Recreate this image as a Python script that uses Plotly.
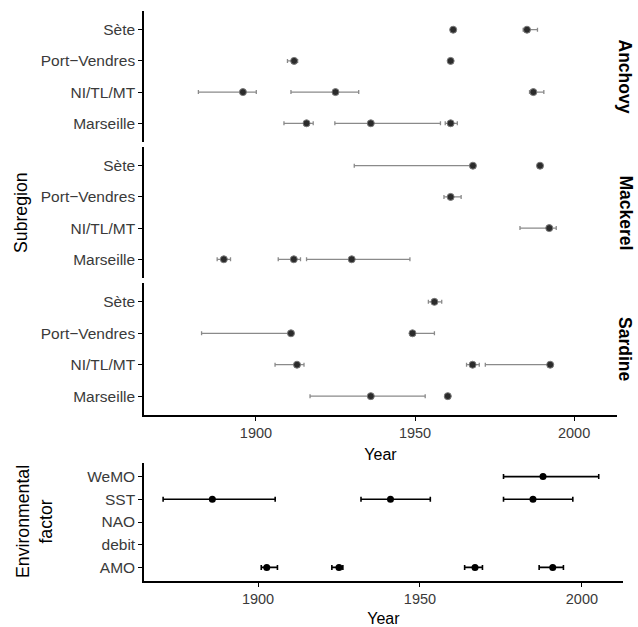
import plotly.graph_objects as go

subregions = ["Marseille", "NI/TL/MT", "Port−Vendres", "Sète"]
factors = ["AMO", "debit", "NAO", "SST", "WeMO"]

anchovy_region = ["Sète", "Sète", "Port−Vendres", "Port−Vendres", "NI/TL/MT", "NI/TL/MT",
                  "NI/TL/MT", "Marseille", "Marseille", "Marseille"]
anchovy_year = [1962.0, 1985.2, 1912.0, 1961.2, 1895.9, 1925.0, 1987.2, 1915.9, 1936.1, 1961.2]
anchovy_lo = [1961.5, 1984.0, 1909.9, 1960.5, 1881.9, 1911.0, 1986.0, 1908.8, 1924.8, 1959.5]
anchovy_hi = [1962.5, 1988.5, 1913.1, 1961.8, 1900.1, 1932.3, 1990.5, 1918.0, 1958.0, 1963.3]

mackerel_region = ["Sète", "Sète", "Port−Vendres", "NI/TL/MT", "Marseille", "Marseille", "Marseille"]
mackerel_year = [1968.2, 1989.3, 1961.2, 1992.2, 1889.9, 1911.9, 1930.1]
mackerel_lo = [1930.9, 1989.3, 1959.1, 1983.0, 1887.8, 1907.0, 1915.9]
mackerel_hi = [1968.5, 1989.3, 1964.5, 1994.4, 1892.0, 1914.0, 1948.4]

sardine_region = ["Sète", "Port−Vendres", "Port−Vendres", "NI/TL/MT", "NI/TL/MT", "NI/TL/MT",
                  "Marseille", "Marseille"]
sardine_year = [1956.1, 1911.0, 1949.2, 1912.9, 1968.1, 1992.5, 1936.1, 1960.3]
sardine_lo = [1954.2, 1882.9, 1948.5, 1906.0, 1966.2, 1972.1, 1917.0, 1959.5]
sardine_hi = [1958.4, 1911.5, 1956.1, 1915.1, 1970.2, 1993.0, 1953.2, 1961.0]

env_factor = ["WeMO", "SST", "SST", "SST", "AMO", "AMO", "AMO", "AMO"]
env_year = [1988.0, 1885.9, 1940.9, 1984.9, 1902.7, 1925.0, 1967.0, 1991.0]
env_lo = [1975.8, 1870.7, 1931.8, 1975.8, 1901.0, 1922.8, 1963.8, 1986.8]
env_hi = [2005.2, 1905.3, 1953.2, 1997.2, 1906.0, 1926.2, 1969.3, 1994.3]

x_ticks = [1900, 1950, 2000]

W, H = 638, 627
def px(x):
    return x / W
def py(y):
    return 1 - y / H

FONT = "Liberation Sans, Arial, sans-serif"
fig = go.Figure()

species = [
    ("Anchovy", anchovy_region, anchovy_year, anchovy_lo, anchovy_hi, "y"),
    ("Mackerel", mackerel_region, mackerel_year, mackerel_lo, mackerel_hi, "y2"),
    ("Sardine", sardine_region, sardine_year, sardine_lo, sardine_hi, "y3"),
]
for name, reg, yr, lo, hi, ya in species:
    fig.add_trace(go.Scatter(
        x=yr, y=reg, mode="markers", xaxis="x", yaxis=ya, showlegend=False,
        marker=dict(color="#2b2b2b", size=7, line=dict(color="#7a7a7a", width=1)),
        error_x=dict(type="data", symmetric=False,
                     array=[h - v for h, v in zip(hi, yr)],
                     arrayminus=[v - l for v, l in zip(yr, lo)],
                     color="#8a8a8a", thickness=1.3, width=2),
    ))

fig.add_trace(go.Scatter(
    x=env_year, y=env_factor, mode="markers", xaxis="x2", yaxis="y4", showlegend=False,
    marker=dict(color="black", size=7),
    error_x=dict(type="data", symmetric=False,
                 array=[h - v for h, v in zip(env_hi, env_year)],
                 arrayminus=[v - l for v, l in zip(env_year, env_lo)],
                 color="black", thickness=1.6, width=2.5),
))

ytickfont = dict(family=FONT, size=15.5, color="#3a3a3a")
xtickfont = dict(family=FONT, size=14.5, color="#3a3a3a")
titlefont = dict(family=FONT, size=16, color="black")
vtitlefont = dict(family=FONT, size=17.7, color="black")
common_y = dict(type="category", showline=True, linecolor="black", linewidth=1.5,
                ticks="outside", ticklen=4, tickcolor="black", tickwidth=1.2,
                showgrid=False, zeroline=False, tickfont=ytickfont, fixedrange=True)
common_x = dict(tickvals=x_ticks, showline=True, linecolor="black", linewidth=1.5,
                ticks="outside", ticklen=4, tickcolor="black", tickwidth=1.2,
                showgrid=False, zeroline=False, tickfont=xtickfont,
                title=dict(text="Year", font=titlefont, standoff=9))

layout_axes = dict(
    xaxis=dict(domain=[px(144), px(617)], anchor="y3", range=[1864.8, 2013.5], **common_x),
    xaxis2=dict(domain=[px(144), px(622.7)], anchor="y4", range=[1864.8, 2012.6], **common_x),
    yaxis=dict(domain=[py(142), py(11)], anchor="x", categoryorder="array",
               categoryarray=subregions, range=[-0.6, 3.6], **common_y),
    yaxis2=dict(domain=[py(278), py(147)], anchor="x", categoryorder="array",
                categoryarray=subregions, range=[-0.6, 3.6], **common_y),
    yaxis3=dict(domain=[py(415), py(283)], anchor="x", categoryorder="array",
                categoryarray=subregions, range=[-0.6, 3.6], **common_y),
    yaxis4=dict(domain=[py(581), py(463)], anchor="x2", categoryorder="array",
                categoryarray=factors, range=[-0.6, 4.6], **common_y),
)

annotations = [
    dict(text="Subregion", x=px(21), y=py(213), xref="paper", yref="paper", textangle=-90,
         showarrow=False, font=vtitlefont, xanchor="center", yanchor="middle"),
    dict(text="Environmental<br>factor", x=px(34), y=py(522), xref="paper", yref="paper",
         textangle=-90, showarrow=False, font=vtitlefont, xanchor="center", yanchor="middle"),
]
for label, yc in [("Anchovy", 76.5), ("Mackerel", 212.5), ("Sardine", 349)]:
    annotations.append(dict(text="<b>" + label + "</b>", x=px(625), y=py(yc), xref="paper",
                            yref="paper", textangle=90, showarrow=False,
                            font=dict(family=FONT, size=17.5, color="black"),
                            xanchor="center", yanchor="middle"))

fig.update_layout(
    width=W, height=H, margin=dict(l=0, r=0, t=0, b=0),
    paper_bgcolor="white", plot_bgcolor="white",
    annotations=annotations, **layout_axes,
)

fig.write_html("out.html", config={"displayModeBar": False},
               post_script="document.body.style.margin='0';")
